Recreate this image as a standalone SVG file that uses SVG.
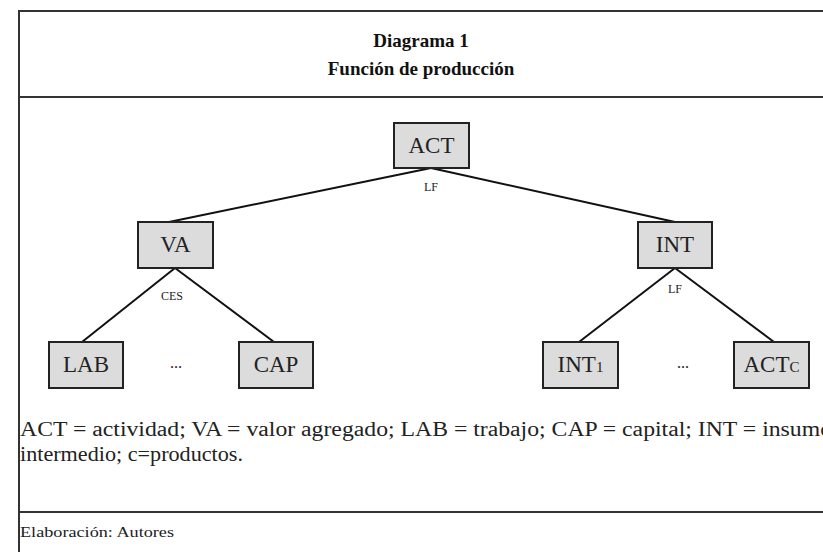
<svg xmlns="http://www.w3.org/2000/svg" width="823" height="552" viewBox="0 0 823 552" font-family="Liberation Serif, DejaVu Serif, serif">
<style>
.frame{stroke:#333;stroke-width:2;fill:none}
.box{fill:#dcdcdc;stroke:#222;stroke-width:2}
.lbl{font-size:23px;fill:#222;text-anchor:middle}
.sm{font-size:15px}
.dots{font-size:16px;fill:#222;text-anchor:middle}
.edge{stroke:#111;stroke-width:2;fill:none}
.note{font-size:12px;fill:#222;text-anchor:middle}
.title{font-size:19px;font-weight:bold;fill:#111;text-anchor:middle}
.body{font-size:20px;fill:#222}
.src{font-size:15px;fill:#222}
</style>
<rect width="823" height="552" fill="#fff"/>
<g id="frame">
<line class="frame" x1="19" y1="11" x2="19" y2="552"/>
<line class="frame" x1="18" y1="11" x2="830" y2="11"/>
<line class="frame" x1="19" y1="97" x2="830" y2="97"/>
<line class="frame" x1="19" y1="512" x2="830" y2="512"/>
</g>
<g id="title">
<text class="title" x="421" y="47">Diagrama 1</text>
<text class="title" x="421" y="75">Función de producción</text>
</g>
<g id="connectors">
<line class="edge" x1="431" y1="168" x2="169" y2="222"/>
<line class="edge" x1="431" y1="168" x2="675" y2="222"/>
<line class="edge" x1="175" y1="268" x2="82" y2="342"/>
<line class="edge" x1="175" y1="268" x2="274" y2="342"/>
<line class="edge" x1="675" y1="268" x2="579" y2="342"/>
<line class="edge" x1="675" y1="268" x2="774" y2="342"/>
<text class="note" x="431" y="191">LF</text>
<text class="note" x="172" y="300">CES</text>
<text class="note" x="675" y="293">LF</text>
</g>
<g id="ACT"><rect class="box" x="394" y="123" width="75" height="45"/><text class="lbl" x="431.5" y="153">ACT</text></g>
<g id="VA"><rect class="box" x="138" y="222" width="75" height="46"/><text class="lbl" x="175.5" y="252">VA</text></g>
<g id="INT"><rect class="box" x="638" y="222" width="74" height="46"/><text class="lbl" x="675" y="252">INT</text></g>
<g id="LAB"><rect class="box" x="49" y="342" width="74" height="46"/><text class="lbl" x="86" y="372">LAB</text></g>
<g id="CAP"><rect class="box" x="239" y="342" width="74" height="46"/><text class="lbl" x="276" y="372">CAP</text></g>
<g id="INT1"><rect class="box" x="543" y="342" width="75" height="46"/><text class="lbl" x="580.5" y="372">INT<tspan class="sm">1</tspan></text></g>
<g id="ACTc"><rect class="box" x="734" y="342" width="75" height="46"/><text class="lbl" x="771.5" y="372">ACT<tspan class="sm">C</tspan></text></g>
<g id="dots">
<text class="dots" x="176" y="368">...</text>
<text class="dots" x="683" y="368">...</text>
</g>
<g id="legend">
<text class="body" x="20" y="436" textLength="812" lengthAdjust="spacingAndGlyphs">ACT = actividad; VA = valor agregado; LAB = trabajo; CAP = capital; INT = insumo</text>
<text class="body" x="20" y="461" textLength="223" lengthAdjust="spacingAndGlyphs">intermedio; c=productos.</text>
<text class="src" x="20" y="537" textLength="154" lengthAdjust="spacingAndGlyphs">Elaboración: Autores</text>
</g>
</svg>
